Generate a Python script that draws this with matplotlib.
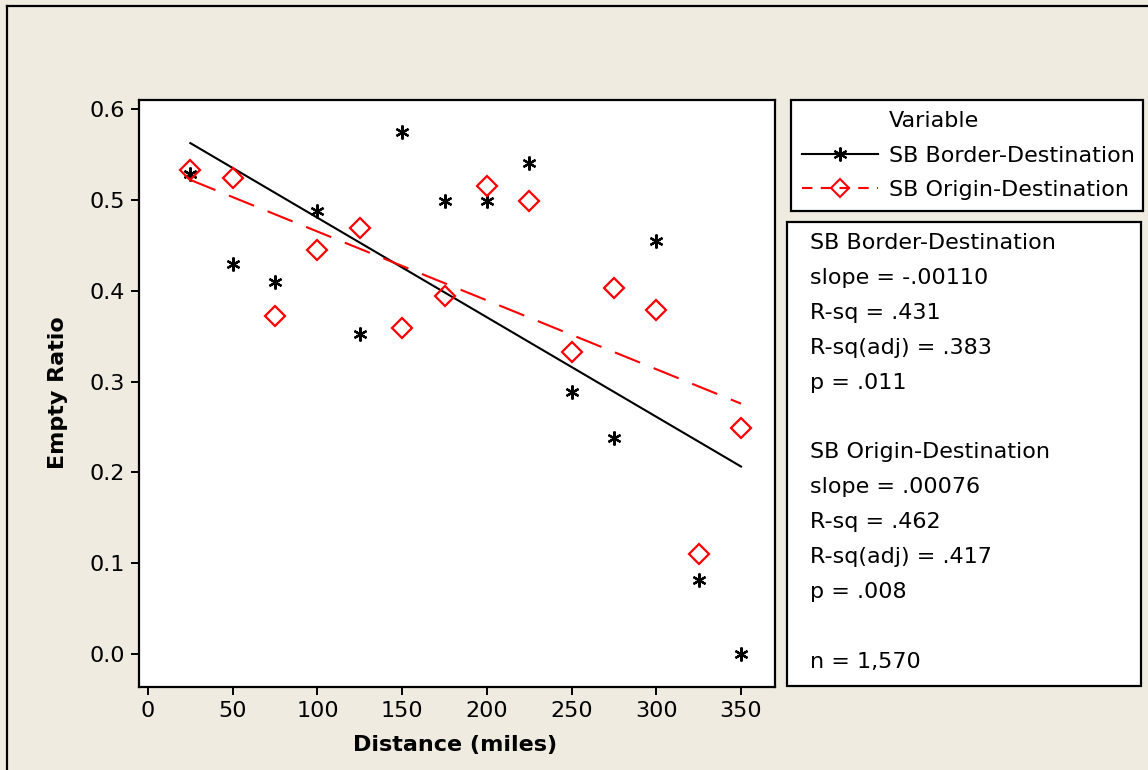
import numpy as np
import matplotlib
matplotlib.use("Agg")
import matplotlib.pyplot as plt
from matplotlib.lines import Line2D
from matplotlib.patches import Rectangle

plt.rcParams['font.family'] = ['DejaVu Sans']

# ---- data ----
distance = [25, 50, 75, 100, 125, 150, 175, 200, 225, 250, 275, 300, 325, 350]
border_dest = [0.528, 0.429, 0.410, 0.488, 0.352, 0.575, 0.499, 0.499, 0.540,
               0.288, 0.238, 0.455, 0.081, 0.000]
origin_dest = [0.533, 0.524, 0.372, 0.445, 0.469, 0.359, 0.394, 0.515, 0.499,
               0.332, 0.403, 0.379, 0.110, 0.249]
series_names = ["SB Border-Destination", "SB Origin-Destination"]
x_ticks = [0, 50, 100, 150, 200, 250, 300, 350]
y_ticks = [0.0, 0.1, 0.2, 0.3, 0.4, 0.5, 0.6]
stats_lines = ["SB Border-Destination", "slope = -.00110", "R-sq = .431",
               "R-sq(adj) = .383", "p = .011", "",
               "SB Origin-Destination", "slope = .00076", "R-sq = .462",
               "R-sq(adj) = .417", "p = .008", "", "n = 1,570"]

W, H = 1148, 770
BG = '#EFEBE0'
fig = plt.figure(figsize=(W / 100, H / 100), dpi=100, facecolor=BG)

def fx(x):
    return x / W

def fy(y):
    return 1 - y / H

# outer frame (top-left edges visible)
fig.add_artist(Line2D([fx(7), fx(7)], [fy(6), 0], color='black', lw=1.6,
                      transform=fig.transFigure))
fig.add_artist(Line2D([fx(7), 1], [fy(6), fy(6)], color='black', lw=1.6,
                      transform=fig.transFigure))

ax_l, ax_r, ax_t, ax_b = 139, 775, 100, 687
ax = fig.add_axes([fx(ax_l), fy(ax_b), (ax_r - ax_l) / W, (ax_b - ax_t) / H])
ax.set_facecolor('white')

x = np.array(distance, dtype=float)
yb = np.array(border_dest)
yo = np.array(origin_dest)

ax.plot(x, yb, linestyle='none', marker=(6, 2, 0), markersize=10,
        markeredgewidth=1.6, color='black', zorder=3)
ax.plot(x, yo, linestyle='none', marker='D', markersize=10,
        markerfacecolor='none', markeredgecolor='red', markeredgewidth=1.6,
        zorder=3)

xs = np.array([x.min(), x.max()])
cb = np.polyfit(x, yb, 1)
co = np.polyfit(x, yo, 1)
ax.plot(xs, np.polyval(cb, xs), color='black', lw=1.5, zorder=2)
ax.plot(xs, np.polyval(co, xs), color='red', lw=1.5, linestyle=(0, (13, 7)),
        zorder=2)

# scales: 0 -> px148, 350 -> px741 ; 0.0 -> px654, 0.6 -> px109
xpx = (741 - 148) / 350
ypx = (654 - 109) / 0.6
ax.set_xlim((ax_l - 148) / xpx, (ax_r - 148) / xpx)
ax.set_ylim(-(ax_b - 654) / ypx, 0.6 + (109 - ax_t) / ypx)
ax.set_xticks(x_ticks)
ax.set_yticks(y_ticks)
ax.set_yticklabels([f"{v:.1f}" for v in y_ticks])
ax.tick_params(direction='out', length=6, width=1.4, labelsize=16,
               colors='black', pad=4)
for s in ax.spines.values():
    s.set_linewidth(1.6)

ax.set_xlabel("Distance (miles)", fontsize=16, fontweight='bold')
ax.set_ylabel("Empty Ratio", fontsize=16, fontweight='bold')
ax.xaxis.label.set_va('center')
ax.yaxis.label.set_va('center')
ax.xaxis.set_label_coords((455 - ax_l) / (ax_r - ax_l), -(745 - ax_b) / (ax_b - ax_t))
ax.yaxis.set_label_coords(-(ax_l - 58) / (ax_r - ax_l), (ax_b - 393) / (ax_b - ax_t))

# legend
handles = [Line2D([], [], linestyle='none'),
           Line2D([], [], color='black', lw=1.5, marker=(6, 2, 0), markersize=10,
                  markeredgewidth=1.5),
           Line2D([], [], color='red', lw=1.5, linestyle=(0, (5, 4)), marker='D',
                  markersize=9, markerfacecolor='none', markeredgewidth=1.5)]
labels = ["Variable"] + series_names
leg = fig.legend(handles, labels, loc='upper left',
                 bbox_to_anchor=(fx(791), fy(212), fx(1143) - fx(791), fy(100) - fy(212)),
                 bbox_transform=fig.transFigure, mode='expand', borderaxespad=0,
                 fontsize=16, handlelength=3.4, handletextpad=0.5, borderpad=0.5,
                 labelspacing=0.65, numpoints=1, fancybox=False, framealpha=1,
                 edgecolor='black', facecolor='white')
leg.get_frame().set_linewidth(1.6)

# stats box
fig.add_artist(Rectangle((fx(787), fy(686)), fx(1141) - fx(787), fy(222) - fy(686),
                         transform=fig.transFigure, facecolor='white',
                         edgecolor='black', lw=1.6))
y0, dy = 243, (662 - 243) / 12
for i, line in enumerate(stats_lines):
    if line:
        fig.text(fx(810), fy(y0 + i * dy), line, fontsize=16, va='center', ha='left')

fig.savefig("out.png", dpi=100, facecolor=BG)
